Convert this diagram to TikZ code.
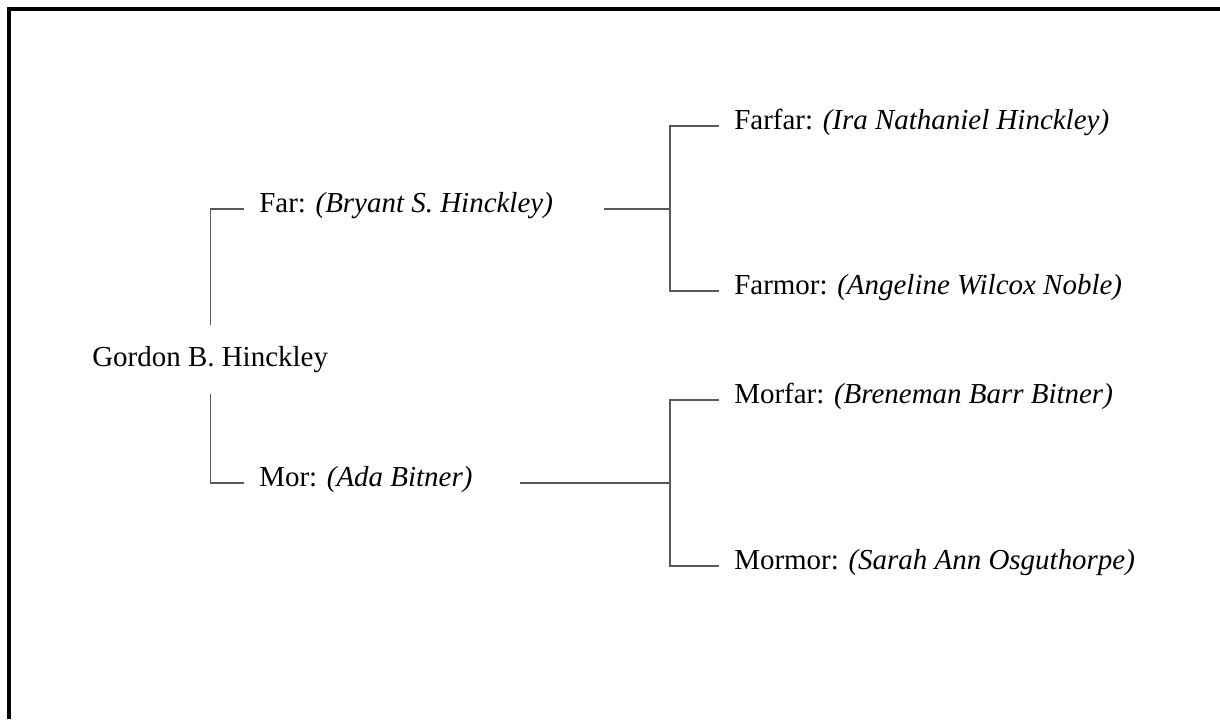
\documentclass[tikz,border=0pt]{standalone}
\usepackage{fontspec}
\setmainfont{Liberation Serif}
\tikzset{
  person/.style={inner ysep=0pt, inner xsep=0.375cm, font=\fontsize{20.6}{24}\selectfont},
  link/.style={draw=black!65, line width=0.9pt}
}
\begin{document}
\begin{tikzpicture}[x=0.025cm, y=-0.025cm]
      \useasboundingbox (0,0) rectangle (1220,719);
      \draw[line width=2.2pt] (9,719) -- (9,9) -- (1220,9);

      \node[person, anchor=mid west, inner ysep=0.52cm] (gordon) at (77,363) {Gordon B. Hinckley};
      \node[person, anchor=mid west] (far) at (244,209) {Far: \textit{(Bryant S. Hinckley)}};
      \node[person, anchor=mid west] (mor) at (244,483) {Mor: \textit{(Ada Bitner)}};

      \foreach \n/\y/\rel/\name in {farfar/126/Farfar/Ira Nathaniel Hinckley,
          farmor/291/Farmor/Angeline Wilcox Noble,
          morfar/400/Morfar/Breneman Barr Bitner,
          mormor/566/Mormor/Sarah Ann Osguthorpe}
        \node[person, anchor=mid west] (\n) at (719,\y) {\rel: \textit{(\name)}};

      \coordinate (farjoin) at (670,209);
      \coordinate (morjoin) at (670,483);

      \draw[link] (gordon.north) |- (far.mid west);
      \draw[link] (gordon.south) |- (mor.mid west);
      \draw[link, shorten <=0.9cm] (far.mid east) -- (farjoin);
      \draw[link, shorten <=0.8cm] (mor.mid east) -- (morjoin);
      \draw[link] (farfar.mid west) -| (farjoin) |- (farmor.mid west);
      \draw[link] (morfar.mid west) -| (morjoin) |- (mormor.mid west);
    \end{tikzpicture}
\end{document}
